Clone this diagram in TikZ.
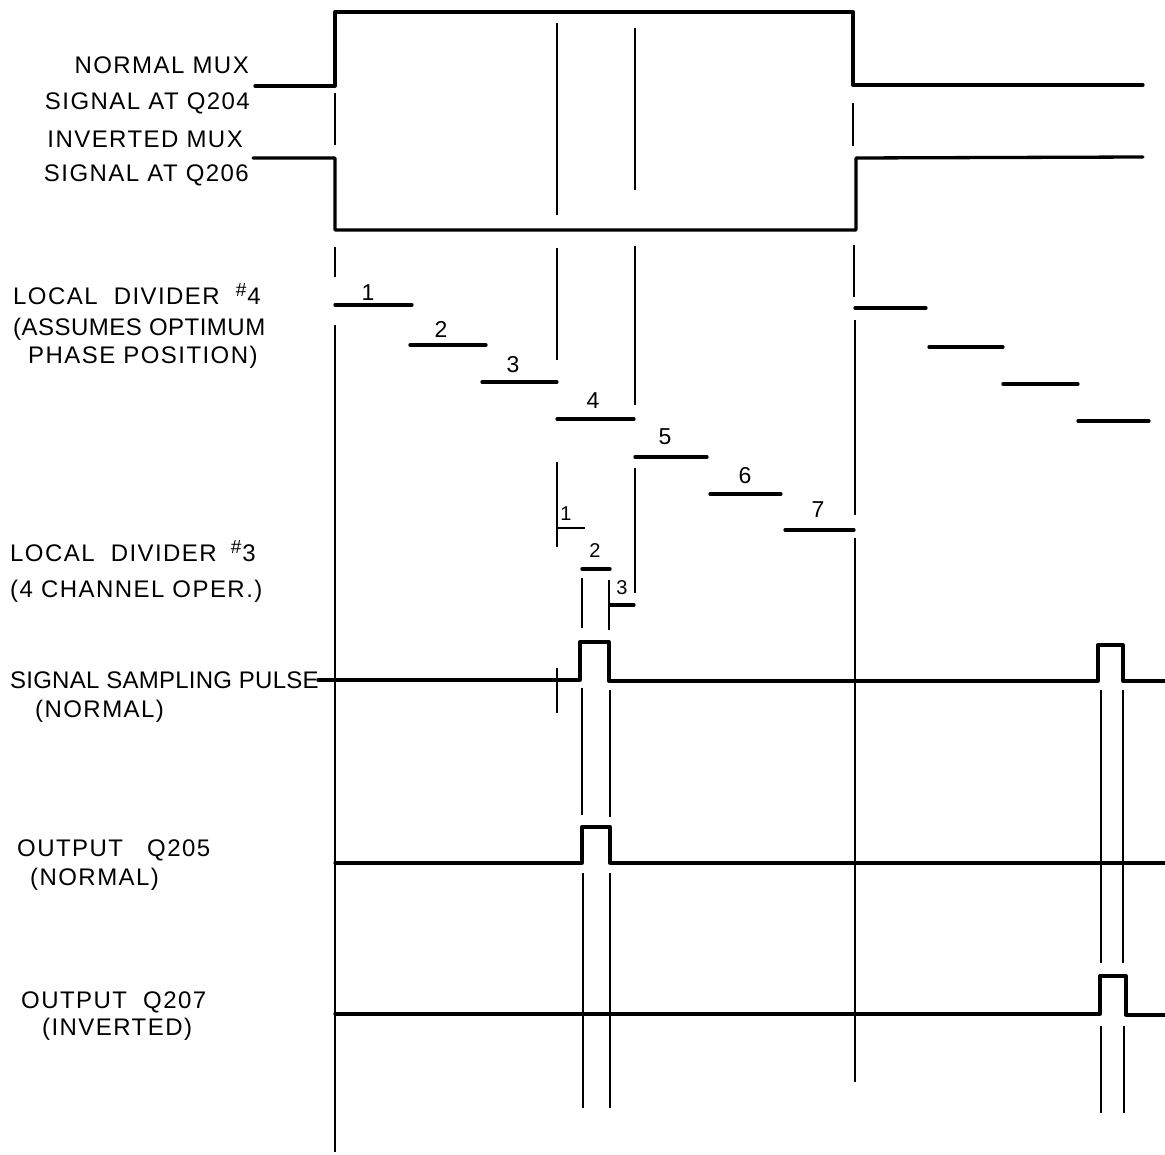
\documentclass[tikz,border=0pt]{standalone}
\usepackage{fontspec}
\setmainfont{Liberation Sans}[LetterSpace=6]
\begin{document}
\begin{tikzpicture}[x=1pt,y=-1pt,
  sig/.style={line width=3.3pt,line join=round,line cap=round},
  stepln/.style={line width=3.3pt,line cap=round},
  guide/.style={line width=1.8pt},
  lbl/.style={inner sep=0pt,font=\fontsize{24}{27}\selectfont,text height=17pt,text depth=0pt},
  num/.style={inner sep=0pt,font=\fontsize{23}{26}\selectfont},
  snum/.style={inner sep=0pt,font=\fontsize{20}{23}\selectfont}]
\useasboundingbox (0,0) rectangle (1165,1155);
\newcommand{\hsh}{\raisebox{8pt}{\fontsize{19}{19}\selectfont\#}\kern1pt}
% ---- labels
\node[lbl,anchor=east] (l1) at (249,65) {NORMAL MUX};
\node[lbl,anchor=east] (l2) at (250,101) {SIGNAL AT Q204};
\node[lbl,anchor=east] (l3) at (243,139) {INVERTED MUX};
\node[lbl,anchor=east] (l4) at (249,173) {SIGNAL AT Q206};
\node[lbl,anchor=west] (l5) at (13,296) {LOCAL\hspace{8pt} DIVIDER\hspace{8pt} \hsh4};
\node[lbl,anchor=west] (l6) at (13,327) {\addfontfeature{LetterSpace=2}(ASSUMES OPTIMUM};
\node[lbl,anchor=west] (l7) at (28,355) {PHASE POSITION)};
\node[lbl,anchor=west] (l8) at (10,553) {LOCAL\hspace{8pt} DIVIDER\hspace{6pt} \hsh3};
\node[lbl,anchor=west] (l9) at (10,589) {(4 CHANNEL OPER.)};
\node[lbl,anchor=west] (l10) at (10,680) {\addfontfeature{LetterSpace=1}SIGNAL SAMPLING PULSE};
\node[lbl,anchor=west] (l11) at (35,709) {(NORMAL)};
\node[lbl,anchor=west] (l12) at (17,848) {OUTPUT\hspace{16pt} Q205};
\node[lbl,anchor=west] (l13) at (30,877) {(NORMAL)};
\node[lbl,anchor=west] (l14) at (21,1000) {OUTPUT\hspace{8pt} Q207};
\node[lbl,anchor=west] (l15) at (42,1027) {(INVERTED)};
% ---- step numbers
\node[num] (n1) at (368,293) {1};
\node[num] (n2) at (441,329) {2};
\node[num] (n3) at (513,365) {3};
\node[num] (n4) at (593,401) {4};
\node[num] (n5) at (665,437) {5};
\node[num] (n6) at (745,476) {6};
\node[num] (n7) at (818,510) {7};
\node[snum] (m1) at (566,514) {1};
\node[snum] (m2) at (595,551) {2};
\node[snum] (m3) at (622,588) {3};
% ---- mux signals
\draw[sig] (255,86) -- (335,86) -- (335,12) -- (853,12) -- (853,85) -- (1143,85);
\draw[sig] (253,158) -- (335,158) -- (335,230) -- (856,230) -- (856,158) -- (1143,157);
% ---- local divider #4 levels
\draw[stepln] (335,305) -- (412,305);
\draw[stepln] (410,345) -- (486,345);
\draw[stepln] (482,382) -- (557,382);
\draw[stepln] (557,419) -- (634,419);
\draw[stepln] (635,457) -- (707,457);
\draw[stepln] (710,494) -- (781,494);
\draw[stepln] (785,530) -- (854,530);
\draw[stepln] (855,308) -- (926,308);
\draw[stepln] (929,347) -- (1003,347);
\draw[stepln] (1003,384) -- (1078,384);
\draw[stepln] (1078,421) -- (1149,421);
% ---- local divider #3 levels
\draw[guide] (557,528) -- (585,528);
\draw[stepln] (582,569) -- (610,569);
\draw[stepln] (610,605) -- (634,605);
% ---- pulses
\draw[sig] (318,680) -- (580,680) -- (580,642) -- (609,642) -- (609,681) -- (1098,681) -- (1098,645) -- (1123,645) -- (1123,681) -- (1165,681);
\draw[sig] (335,863) -- (582,863) -- (582,827) -- (610,827) -- (610,863) -- (1165,863);
\draw[sig] (335,1014) -- (1100,1014) -- (1100,976) -- (1126,976) -- (1126,1015) -- (1165,1015);
% ---- guide lines
\draw[guide] (335,93) -- (335,145);
\draw[guide] (335,247) -- (335,277);
\draw[guide] (335,325) -- (335,1152);
\draw[guide] (557,23) -- (557,215);
\draw[guide] (557,248) -- (557,360);
\draw[guide] (557,462) -- (557,547);
\draw[guide] (557,668) -- (557,713);
\draw[guide] (635,28) -- (635,190);
\draw[guide] (635,246) -- (635,405);
\draw[guide] (635,468) -- (635,593);
\draw[guide] (853,103) -- (853,146);
\draw[guide] (854,245) -- (854,297);
\draw[guide] (855,320) -- (855,515);
\draw[guide] (855,538) -- (855,1082);
\draw[guide] (582,578) -- (582,628);
\draw[guide] (609,580) -- (609,630);
\draw[guide] (582,688) -- (582,815);
\draw[guide] (610,690) -- (610,817);
\draw[guide] (583,873) -- (583,1108);
\draw[guide] (610,873) -- (610,1108);
\draw[guide] (1101,690) -- (1101,963);
\draw[guide] (1123,690) -- (1123,963);
\draw[guide] (1101,1026) -- (1101,1113);
\draw[guide] (1124,1026) -- (1124,1113);
\end{tikzpicture}
\end{document}
